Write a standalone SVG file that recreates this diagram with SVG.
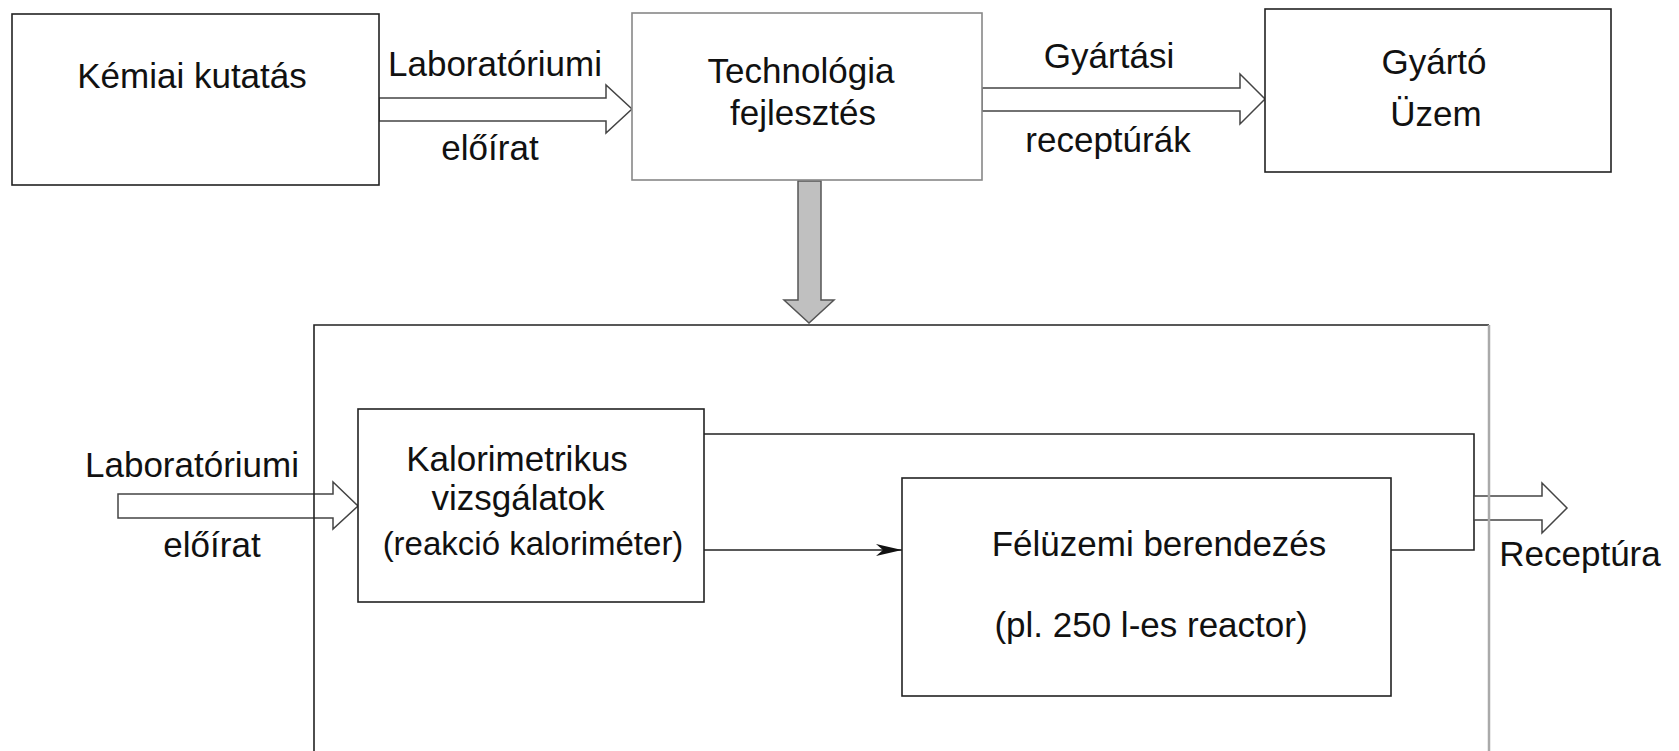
<svg xmlns="http://www.w3.org/2000/svg" width="1679" height="751" viewBox="0 0 1679 751">
<style>
  text { font-family: "Liberation Sans", Arial, sans-serif; font-size: 35px; fill: #111; text-anchor: middle; }
  .box { fill: #fff; stroke: #222; stroke-width: 1.6; }
  .gbox { fill: #fff; stroke: #888; stroke-width: 1.6; }
  .hollow { fill: #fff; stroke: #444; stroke-width: 1.5; stroke-linejoin: miter; }
  .line { fill: none; stroke: #222; stroke-width: 1.6; }
</style>
<defs>
  <marker id="barb" markerUnits="userSpaceOnUse" markerWidth="28" markerHeight="14" viewBox="-27 -7 28 14" refX="0" refY="0" orient="auto">
    <path d="M0,0 L-26,-6 L-19,0 L-26,6 Z" fill="#111"/>
  </marker>
</defs>
<rect width="1679" height="751" fill="#fff"/>

<g id="connectors">
  <polygon class="hollow" points="379,98 606,98 606,85 632,109 606,133 606,121 379,121"/>
  <polygon class="hollow" points="982,88 1240,88 1240,74 1265,99 1240,124 1240,111 982,111"/>
  <polygon points="798,181 821,181 821,300 834,300 809,323 784,300 798,300" fill="#c0c0c0" stroke="#555" stroke-width="1.5"/>
  <polygon class="hollow" points="118,494 333,494 333,482 358,506 333,529 333,518 118,518"/>
  <line class="line" x1="704" y1="550" x2="902" y2="550" marker-end="url(#barb)"/>
  <polyline class="line" points="704,434 1474,434 1474,550 1391,550"/>
  <polygon class="hollow" points="1474,496 1542,496 1542,483 1567,508 1542,533 1542,520 1474,520"/>
</g>

<g id="container">
  <polyline fill="none" stroke="#222" stroke-width="1.6" points="314,760 314,325 1489,325"/>
  <line x1="1489" y1="325" x2="1489" y2="760" stroke="#aaa" stroke-width="2.5"/>
</g>

<g id="kemiai">
  <rect class="box" x="12" y="14" width="367" height="171"/>
  <text x="192" y="88">Kémiai kutatás</text>
</g>

<g id="labels-top">
  <text x="495" y="76">Laboratóriumi</text>
  <text x="490" y="160">előírat</text>
  <text x="1109" y="68">Gyártási</text>
  <text x="1108" y="152">receptúrák</text>
</g>

<g id="technologia">
  <rect class="gbox" x="632" y="13" width="350" height="167"/>
  <text x="801" y="83">Technológia</text>
  <text x="803" y="125">fejlesztés</text>
</g>

<g id="gyarto">
  <rect class="box" x="1265" y="9" width="346" height="163"/>
  <text x="1434" y="74">Gyártó</text>
  <text x="1436" y="126">Üzem</text>
</g>

<g id="labels-left">
  <text x="192" y="477">Laboratóriumi</text>
  <text x="212" y="557">előírat</text>
</g>

<g id="kalorimetrikus">
  <rect class="box" x="358" y="409" width="346" height="193"/>
  <text x="517" y="471">Kalorimetrikus</text>
  <text x="518" y="510">vizsgálatok</text>
  <text x="533" y="555" style="font-size:33px">(reakció kaloriméter)</text>
</g>

<g id="feluzemi">
  <rect class="box" x="902" y="478" width="489" height="218"/>
  <text x="1159" y="556">Félüzemi berendezés</text>
  <text x="1151" y="637">(pl. 250 l-es reactor)</text>
</g>

<g id="receptura">
  <text x="1580" y="566">Receptúra</text>
</g>
</svg>
